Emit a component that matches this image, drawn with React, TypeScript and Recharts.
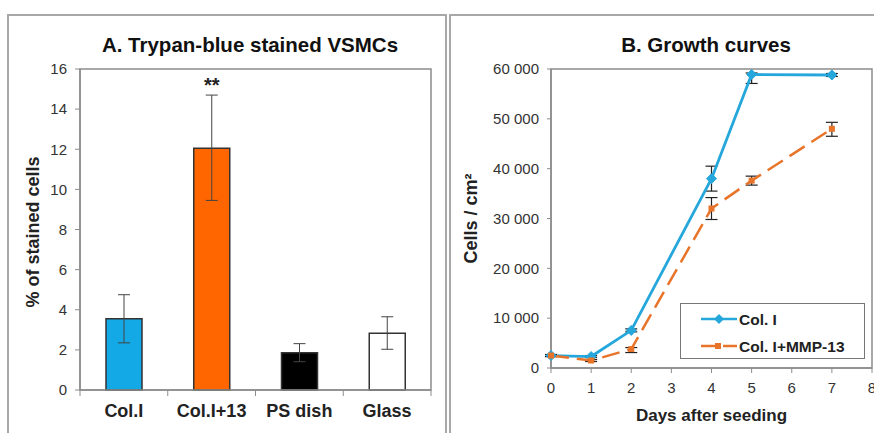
import React from 'react';
import {
  BarChart, Bar, XAxis, YAxis, ErrorBar, LabelList, Cell, ReferenceArea,
  LineChart, Line, Legend,
} from 'recharts';

// ---------- Panel A data ----------
const stainCategories = ['Col.I', 'Col.I+13', 'PS dish', 'Glass'];
const stainValues = [3.55, 12.05, 1.86, 2.83];
const stainErrors: [number, number][] = [[1.2, 1.2], [2.6, 2.65], [0.45, 0.45], [0.8, 0.82]];
const stainSignif = ['', '**', '', ''];
const stainColors = ['#12A9E6', '#FF6600', '#000000', '#FFFFFF'];
const stainTicks = [0, 2, 4, 6, 8, 10, 12, 14, 16];

// ---------- Panel B data ----------
const days = [0, 1, 2, 4, 5, 7];
const colI = [2500, 2300, 7550, 38000, 58900, 58800];
const colIErr: [number, number][] = [[200, 200], [200, 200], [300, 300], [2500, 2500], [1800, 300], [300, 300]];
const colIMMP = [2500, 1500, 3800, 32000, 37600, 48000];
const colIMMPErr: [number, number][] = [[200, 200], [200, 200], [700, 300], [2200, 2200], [900, 900], [1500, 1300]];
const dayTicks = [0, 1, 2, 3, 4, 5, 6, 7, 8];
const cellTicks = [0, 10000, 20000, 30000, 40000, 50000, 60000];

const FONT = '"Liberation Sans", Arial, sans-serif';
const AXIS_GRAY = '#8c8c8c';
const TEXT = '#222';

// category slot positions on a numeric axis: each category sits in the middle of its slot
const barData = stainCategories.map((c, i) => ({
  slot: i + 0.5,
  name: c,
  value: stainValues[i],
  err: stainErrors[i],
  sig: stainSignif[i],
}));
const slotTicks: number[] = [];
for (let i = 0; i <= stainCategories.length * 2; i++) slotTicks.push(i / 2);

const lineData = days.map((d, i) => ({
  day: d,
  a: colI[i],
  aErr: colIErr[i],
  b: colIMMP[i],
  bErr: colIMMPErr[i],
}));

const fmtThousands = (v: number) =>
  v === 0 ? '0' : `${Math.floor(v / 1000)} ${String(v % 1000).padStart(3, '0')}`;

const SlotTick = (props: any) => {
  const { x, y, payload } = props;
  const v = payload.value as number;
  if (Number.isInteger(v)) {
    return <line x1={x} y1={y} x2={x} y2={y + 6} stroke={AXIS_GRAY} strokeWidth={1} />;
  }
  const label = stainCategories[Math.floor(v)];
  return (
    <text x={x} y={y + 27} textAnchor="middle" fontFamily={FONT} fontWeight={700} fontSize={18} fill={TEXT}>
      {label}
    </text>
  );
};

const Diamond = (props: any) => {
  const { cx, cy } = props;
  if (cx == null || cy == null) return null;
  const r = 5;
  return (
    <polygon
      points={`${cx},${cy - r} ${cx + r},${cy} ${cx},${cy + r} ${cx - r},${cy}`}
      fill="#25A7DC"
      stroke="#25A7DC"
    />
  );
};

const SmallSquare = (props: any) => {
  const { cx, cy } = props;
  if (cx == null || cy == null) return null;
  const s = 3;
  return <rect x={cx - s} y={cy - s} width={2 * s} height={2 * s} fill="#E8742A" />;
};

const LegendBox = () => (
  <div
    style={{
      width: 185,
      height: 56,
      border: '1.5px solid #777',
      background: '#fff',
      boxSizing: 'border-box',
      position: 'relative',
    }}
  >
    <svg width={185} height={56} style={{ position: 'absolute', left: 0, top: 0 }}>
      <line x1={20} y1={15} x2={56} y2={15} stroke="#25A7DC" strokeWidth={2.5} />
      <polygon points="38,10 43,15 38,20 33,15" fill="#25A7DC" />
      <line x1={20} y1={42} x2={56} y2={42} stroke="#E8742A" strokeWidth={2.5} strokeDasharray="14 8" />
      <rect x={34} y={39} width={6} height={6} fill="#E8742A" />
      <text x={58} y={20.5} fontFamily={FONT} fontWeight={700} fontSize={15.5} fill={TEXT}>Col. I</text>
      <text x={58} y={47.5} fontFamily={FONT} fontWeight={700} fontSize={15.5} fill={TEXT}>Col. I+MMP-13</text>
    </svg>
  </div>
);

export default function App() {
  return (
    <div
      style={{
        position: 'fixed',
        left: 0,
        top: 0,
        width: 874,
        height: 433,
        background: '#fff',
        overflow: 'hidden',
        fontFamily: FONT,
      }}
    >
      {/* panel frames */}
      <div style={{ position: 'absolute', left: 7, top: 14, width: 436, height: 440, border: '2px solid #a8a8a8' }} />
      <div style={{ position: 'absolute', left: 449, top: 14, width: 440, height: 440, border: '2px solid #a8a8a8' }} />

      {/* titles */}
      <div style={{ position: 'absolute', left: 50, top: 33, width: 400, textAlign: 'center', fontWeight: 700, fontSize: 20.5, color: '#111' }}>
        A. Trypan-blue stained VSMCs
      </div>
      <div style={{ position: 'absolute', left: 556, top: 33, width: 300, textAlign: 'center', fontWeight: 700, fontSize: 20.5, color: '#111' }}>
        B. Growth curves
      </div>

      {/* Panel A */}
      <div style={{ position: 'absolute', left: 0, top: 0 }}>
        <BarChart
          width={440}
          height={433}
          data={barData}
          margin={{ top: 69, right: 9, bottom: 13, left: 40 }}
        >
          <XAxis
            type="number"
            dataKey="slot"
            domain={[0, stainCategories.length]}
            ticks={slotTicks}
            interval={0}
            tick={<SlotTick />}
            tickLine={false}
            tickSize={0}
            tickMargin={0}
            axisLine={{ stroke: AXIS_GRAY, strokeWidth: 1.5 }}
            height={30}
          />
          <YAxis
            domain={[0, 16]}
            ticks={stainTicks}
            interval={0}
            width={40}
            axisLine={{ stroke: AXIS_GRAY, strokeWidth: 1.5 }}
            tickLine={{ stroke: AXIS_GRAY }}
            tickSize={5}
            tickMargin={8}
            tick={{ fontFamily: FONT, fontSize: 15, fill: '#333' }}
            label={{
              value: '% of stained cells',
              angle: -90,
              position: 'insideLeft',
              dx: -12,
              dy: 78,
              style: { fontFamily: FONT, fontWeight: 700, fontSize: 18, fill: TEXT },
            }}
          />
          <ReferenceArea x1={0} x2={stainCategories.length} y1={0} y2={16} fill="none" stroke={AXIS_GRAY} strokeWidth={1.5} />
          <Bar dataKey="value" barSize={36} stroke="#333" strokeWidth={1.5} isAnimationActive={false}>
            {barData.map((d, i) => (
              <Cell key={d.name} fill={stainColors[i]} />
            ))}
            <ErrorBar dataKey="err" width={6} stroke="#444" strokeWidth={1} direction="y" />
            <LabelList dataKey="sig" position="top" offset={56} style={{ fontFamily: FONT, fontWeight: 700, fontSize: 20, fill: TEXT }} />
          </Bar>
        </BarChart>
      </div>

      {/* Panel B */}
      <div style={{ position: 'absolute', left: 440, top: 0 }}>
        <LineChart
          width={434}
          height={433}
          data={lineData}
          margin={{ top: 69, right: 2, bottom: 10, left: 51 }}
        >
          <XAxis
            type="number"
            dataKey="day"
            domain={[0, 8]}
            ticks={dayTicks}
            interval={0}
            height={55}
            axisLine={{ stroke: AXIS_GRAY, strokeWidth: 1.5 }}
            tickLine={{ stroke: AXIS_GRAY }}
            tickSize={5}
            tickMargin={9}
            tick={{ fontFamily: FONT, fontSize: 15, fill: '#333' }}
            label={{
              value: 'Days after seeding',
              position: 'insideBottom',
              offset: 2,
              style: { fontFamily: FONT, fontWeight: 700, fontSize: 17, fill: TEXT },
            }}
          />
          <YAxis
            domain={[0, 60000]}
            ticks={cellTicks}
            interval={0}
            width={60}
            axisLine={{ stroke: AXIS_GRAY, strokeWidth: 1.5 }}
            tickLine={{ stroke: AXIS_GRAY }}
            tickSize={4}
            tickMargin={8}
            tickFormatter={fmtThousands}
            tick={{ fontFamily: FONT, fontSize: 15, fill: '#333' }}
            label={{
              value: 'Cells / cm²',
              angle: -90,
              position: 'insideLeft',
              dx: -25,
              dy: 45,
              style: { fontFamily: FONT, fontWeight: 700, fontSize: 18, fill: TEXT },
            }}
          />
          <ReferenceArea x1={0} x2={8} y1={0} y2={60000} fill="none" stroke={AXIS_GRAY} strokeWidth={1.5} />
          <Legend
            content={<LegendBox />}
            wrapperStyle={{ left: 240, top: 303, width: 185, height: 56 }}
            layout="horizontal"
            verticalAlign="middle"
            align="center"
          />
          <Line
            dataKey="a"
            name="Col. I"
            stroke="#25A7DC"
            strokeWidth={2.8}
            dot={<Diamond />}
            activeDot={false}
            isAnimationActive={false}
          >
            <ErrorBar dataKey="aErr" width={6} stroke="#222" strokeWidth={1.2} direction="y" />
          </Line>
          <Line
            dataKey="b"
            name="Col. I+MMP-13"
            stroke="#E8742A"
            strokeWidth={2.5}
            strokeDasharray="18 8"
            dot={<SmallSquare />}
            activeDot={false}
            isAnimationActive={false}
          >
            <ErrorBar dataKey="bErr" width={6} stroke="#222" strokeWidth={1.2} direction="y" />
          </Line>
        </LineChart>
      </div>
    </div>
  );
}
